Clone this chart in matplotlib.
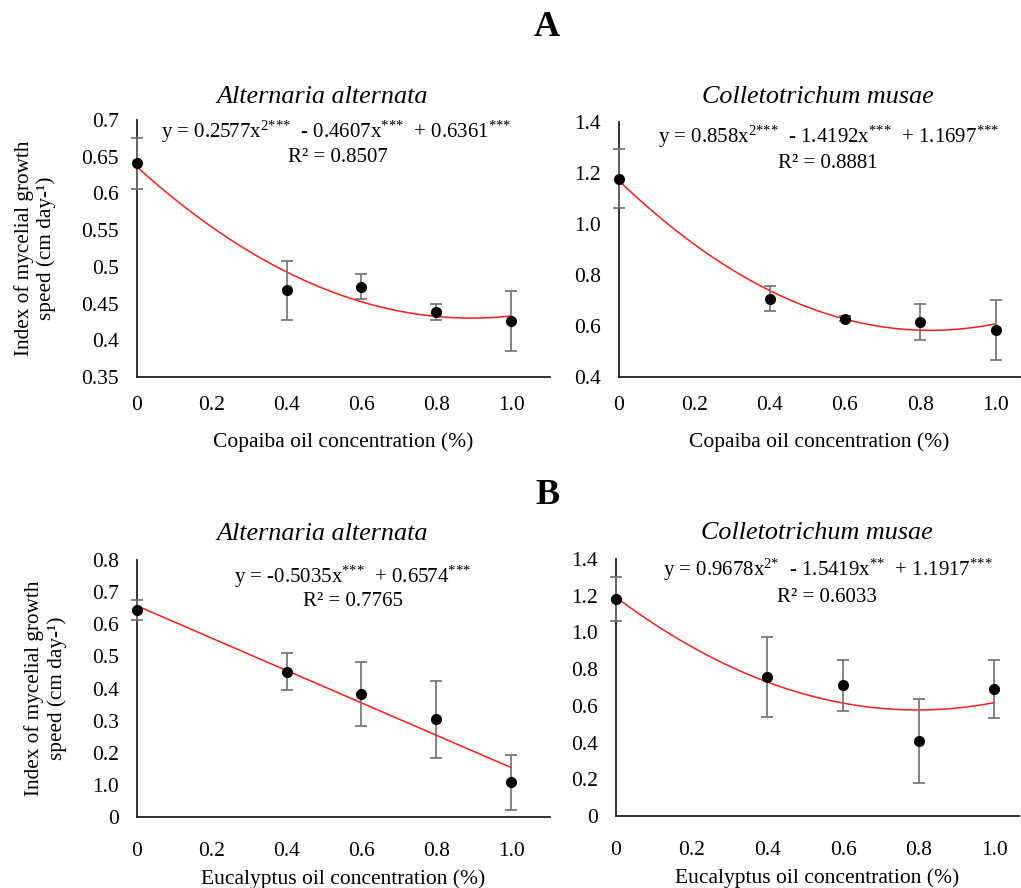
import numpy as np
import matplotlib.pyplot as plt

plt.rcParams['font.family'] = ['Liberation Serif', 'DejaVu Serif']
plt.rcParams['mathtext.fontset'] = 'custom'
plt.rcParams['mathtext.rm'] = 'Liberation Serif'
plt.rcParams['mathtext.it'] = 'Liberation Serif:italic'

# =============================================================================
# DATA
# =============================================================================
conc = [0, 0.4, 0.6, 0.8, 1.0]

# A - Copaiba oil
copaiba_alt = [0.641, 0.468, 0.473, 0.438, 0.426]
copaiba_alt_err = [0.035, 0.040, 0.017, 0.011, 0.041]
copaiba_alt_fit = [0.2577, -0.4607, 0.6361]

copaiba_col = [1.178, 0.707, 0.629, 0.616, 0.584]
copaiba_col_err = [0.117, 0.050, 0.010, 0.070, 0.117]
copaiba_col_fit = [0.858, -1.4192, 1.1697]

# B - Eucalyptus oil
euca_alt = [0.644, 0.452, 0.383, 0.304, 0.108]
euca_alt_err = [0.031, 0.058, 0.100, 0.120, 0.085]
euca_alt_fit = [-0.5035, 0.6574]

euca_col = [1.180, 0.757, 0.712, 0.410, 0.692]
euca_col_err = [0.120, 0.220, 0.140, 0.230, 0.160]
euca_col_fit = [0.9678, -1.5419, 1.1917]

xticks = [0, 0.2, 0.4, 0.6, 0.8, 1.0]
xticklabels = ['0', '0.2', '0.4', '0.6', '0.8', '1.0']

yt_copaiba_alt = [0.35, 0.4, 0.45, 0.5, 0.55, 0.6, 0.65, 0.7]
yl_copaiba_alt = ['0.35', '0.4', '0.45', '0.5', '0.55', '0.6', '0.65', '0.7']
yt_col = [0.4, 0.6, 0.8, 1.0, 1.2, 1.4]
yl_col = ['0.4', '0.6', '0.8', '1.0', '1.2', '1.4']
yt_euca_alt = [0, 0.1, 0.2, 0.3, 0.4, 0.5, 0.6, 0.7, 0.8]
yl_euca_alt = ['0', '1.0', '0.2', '0.3', '0.4', '0.5', '0.6', '0.7', '0.8']
yt_euca_col = [0, 0.2, 0.4, 0.6, 0.8, 1.0, 1.2, 1.4]
yl_euca_col = ['0', '0.2', '0.4', '0.6', '0.8', '1.0', '1.2', '1.4']

# =============================================================================
# FIGURE
# =============================================================================
W, H = 1021, 888
fig = plt.figure(figsize=(W / 100, H / 100), dpi=100)


def px_axes(left, top, right, bottom):
    """Add axes from pixel box (origin top-left)"""
    return fig.add_axes([left / W, 1 - bottom / H, (right - left) / W, (bottom - top) / H])


def ftext(x, y, s, **kw):
    fig.text(x / W, 1 - y / H, s, ha='center', va='center', **kw)


def panel(ax, y, err, fit, xmax, ylim, yt, yl, xlabel, ylabel=None,
          xpad=14, xlabelpad=12):
    xs = np.linspace(0, 1.0, 200)
    ax.plot(xs, np.polyval(fit, xs), color='#ff1a1a', lw=1.1, zorder=2)
    ax.errorbar(conc, y, yerr=err, fmt='o', color='black', ms=7,
                ecolor='#707070', elinewidth=1.2, capsize=4, capthick=1.2,
                zorder=3, clip_on=False)
    ax.set_xlim(0, xmax)
    ax.set_ylim(*ylim)
    ax.set_xticks(xticks)
    ax.set_xticklabels(xticklabels)
    ax.set_yticks(yt)
    ax.set_yticklabels(yl)
    ax.tick_params(length=0, labelsize=15.5)
    ax.tick_params(axis='y', pad=13)
    ax.tick_params(axis='x', pad=xpad)
    for side in ['top', 'right']:
        ax.spines[side].set_visible(False)
    for side in ['left', 'bottom']:
        ax.spines[side].set_color('#222222')
        ax.spines[side].set_linewidth(1.3)
    ax.set_xlabel(xlabel, fontsize=15.5, labelpad=xlabelpad)
    if ylabel:
        ax.set_ylabel(ylabel, fontsize=15.3, labelpad=18)
    ax.patch.set_alpha(0)


ylab = 'Index of mycelial growth\nspeed (cm day-¹)'

ax1 = px_axes(137, 120, 550, 377)
panel(ax1, copaiba_alt, copaiba_alt_err, copaiba_alt_fit, 1.104, (0.35, 0.7),
      yt_copaiba_alt, yl_copaiba_alt, 'Copaiba oil concentration (%)', ylab)

ax2 = px_axes(619, 122, 1020, 377)
panel(ax2, copaiba_col, copaiba_col_err, copaiba_col_fit, 1.065, (0.4, 1.4),
      yt_col, yl_col, 'Copaiba oil concentration (%)')

ax3 = px_axes(137, 560, 550, 817)
panel(ax3, euca_alt, euca_alt_err, euca_alt_fit, 1.104, (0, 0.8),
      yt_euca_alt, yl_euca_alt, 'Eucalyptus oil concentration (%)', ylab,
      xpad=18, xlabelpad=6)

ax4 = px_axes(616, 559, 1019, 816)
panel(ax4, euca_col, euca_col_err, euca_col_fit, 1.065, (0, 1.4),
      yt_euca_col, yl_euca_col, 'Eucalyptus oil concentration (%)',
      xpad=18, xlabelpad=6)

# Panel letters
ftext(547, 28, 'A', fontsize=26, fontweight='bold')
ftext(547, 496, 'B', fontsize=26, fontweight='bold')

# Species titles
ftext(322, 97, 'Alternaria alternata', fontsize=18.8, style='italic')
ftext(818, 97, 'Colletotrichum musae', fontsize=18.8, style='italic')
ftext(322, 534, 'Alternaria alternata', fontsize=18.8, style='italic')
ftext(817, 533, 'Colletotrichum musae', fontsize=18.8, style='italic')

# Regression equations
S3 = '$^{{*}{*}{*}}$'
S2 = '$^{{*}{*}}$'
fs = 15
ftext(336, 132, 'y = 0.2577x$^{2{*}{*}{*}}$  - 0.4607x' + S3 + '  + 0.6361' + S3, fontsize=fs)
ftext(338, 158, 'R² = 0.8507', fontsize=fs)
ftext(829, 137, 'y = 0.858x$^{2{*}{*}{*}}$  - 1.4192x' + S3 + '  + 1.1697' + S3, fontsize=fs)
ftext(828, 163, 'R² = 0.8881', fontsize=fs)
ftext(353, 577, 'y = -0.5035x' + S3 + '  + 0.6574' + S3, fontsize=fs)
ftext(353, 602, 'R² = 0.7765', fontsize=fs)
ftext(828, 570, 'y = 0.9678x$^{2{*}}$  - 1.5419x' + S2 + '  + 1.1917' + S3, fontsize=fs)
ftext(827, 597, 'R² = 0.6033', fontsize=fs)

fig.savefig('out.png', dpi=100)
